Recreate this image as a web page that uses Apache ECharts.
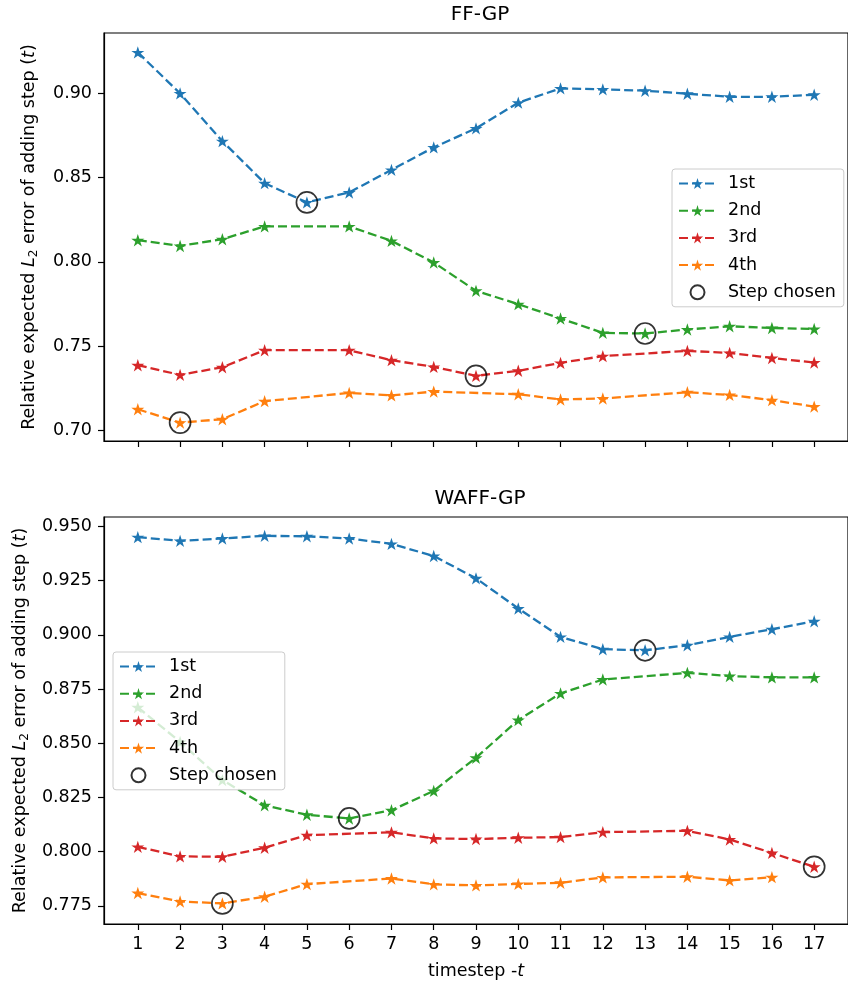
<!DOCTYPE html>
<html>
<head>
<meta charset="utf-8">
<script src="https://cdn.jsdelivr.net/npm/echarts@6/dist/echarts.min.js"></script>
<style>
  html, body { margin: 0; padding: 0; background: #fff; }
  #main { width: 848px; height: 981px; }
</style>
</head>
<body>
<div id="main"></div>
<script>
// timesteps on the x axis
var steps = [1, 2, 3, 4, 5, 6, 7, 8, 9, 10, 11, 12, 13, 14, 15, 16, 17];
var names = ['1st', '2nd', '3rd', '4th'];
var colors = ['#1f77b4', '#2ca02c', '#d62728', '#ff7f0e'];

// FF-GP (top panel); null = step already chosen earlier
var ff1 = [0.9241, 0.8998, 0.8715, 0.8466, 0.8352, 0.8411, 0.8545, 0.8678, 0.8791, 0.8943, 0.9028, 0.9022, 0.9014, 0.8996, 0.8978, 0.8978, 0.8990];
var ff2 = [0.8128, 0.8094, 0.8134, 0.8210, null, 0.8210, 0.8124, 0.7996, 0.7828, 0.7749, 0.7664, 0.7579, 0.7575, 0.7599, 0.7618, 0.7608, 0.7602];
var ff3 = [0.7387, 0.7330, 0.7375, 0.7476, null, 0.7476, 0.7417, 0.7377, 0.7324, 0.7354, 0.7401, 0.7441, null, 0.7472, 0.7460, 0.7430, 0.7403];
var ff4 = [0.7126, 0.7047, 0.7067, 0.7174, null, 0.7223, 0.7208, 0.7231, null, 0.7215, 0.7184, 0.7190, null, 0.7227, 0.7211, 0.7180, 0.7142];
var ffChosen = [5, 13, 9, 2];

// WAFF-GP (bottom panel)
var wa1 = [0.9451, 0.9434, 0.9445, 0.9457, 0.9455, 0.9445, 0.9420, 0.9364, 0.9261, 0.9122, 0.8991, 0.8934, 0.8929, 0.8952, 0.8991, 0.9026, 0.9063];
var wa2 = [0.8666, 0.8506, 0.8330, 0.8214, 0.8170, 0.8153, 0.8191, 0.8280, 0.8433, 0.8607, 0.8730, 0.8794, null, 0.8825, 0.8810, 0.8804, 0.8804];
var wa3 = [0.8022, 0.7978, 0.7976, 0.8018, 0.8076, null, 0.8089, 0.8061, 0.8058, 0.8064, 0.8067, 0.8090, null, 0.8096, 0.8056, 0.7994, 0.7930];
var wa4 = [0.7809, 0.7770, 0.7761, 0.7792, 0.7850, null, 0.7876, 0.7849, 0.7844, 0.7851, 0.7856, 0.7881, null, 0.7884, 0.7867, 0.7882, null];
var waChosen = [13, 6, 17, 3];

var ffTicks = [0.70, 0.75, 0.80, 0.85, 0.90];
var waTicks = [0.775, 0.800, 0.825, 0.850, 0.875, 0.900, 0.925, 0.950];

var FONT = 'DejaVu Sans';
var STAR = 'path://M50,0L61.23,34.55L97.55,34.55L68.17,55.9L79.39,90.45L50,69.1L20.61,90.45L31.83,55.9L2.45,34.55L38.77,34.55Z';

var chart = echarts.init(document.getElementById('main'));

function pairs(vals) {
  return steps.map(function (s, i) { return [s, vals[i]]; });
}

function panelSeries(idx, lists, chosen) {
  var out = lists.map(function (vals, k) {
    return {
      type: 'line',
      name: names[k],
      xAxisIndex: idx,
      yAxisIndex: idx,
      data: pairs(vals),
      connectNulls: true,
      symbol: STAR,
      symbolSize: 13,
      symbolKeepAspect: true,
      showAllSymbol: true,
      color: colors[k],
      itemStyle: { color: colors[k] },
      lineStyle: { color: colors[k], width: 2.3, type: [9, 4] },
      z: 2 + k * 0.1
    };
  });
  out.push({
    type: 'scatter',
    name: 'Step chosen',
    xAxisIndex: idx,
    yAxisIndex: idx,
    data: chosen.map(function (s, k) { return [s, lists[k][s - 1]]; }),
    symbol: 'circle',
    symbolSize: 21,
    itemStyle: { color: 'rgba(0,0,0,0)', borderColor: '#000', borderWidth: 1.7 },
    z: 5
  });
  return out;
}

function yAxis(idx, min, max, ticks, digits) {
  return {
    type: 'value',
    gridIndex: idx,
    min: min,
    max: max,
    name: '{n|Relative expected }{i|L}{s|2}{n| error of adding step (}{i|t}{n|)}',
    nameLocation: 'middle',
    nameGap: 64,
    nameTextStyle: {
      rich: {
        n: { fontFamily: FONT, fontSize: 17.5, color: '#000', lineHeight: 22 },
        i: { fontFamily: FONT, fontSize: 17.5, color: '#000', fontStyle: 'italic', lineHeight: 22 },
        s: { fontFamily: FONT, fontSize: 12, color: '#000', verticalAlign: 'bottom', lineHeight: 14 }
      }
    },
    axisLine: { show: true, lineStyle: { color: '#000', width: 1.2 } },
    axisTick: { show: true, customValues: ticks, length: 6, lineStyle: { color: '#000', width: 1.2 } },
    axisLabel: {
      customValues: ticks,
      margin: 12,
      color: '#000',
      fontFamily: FONT,
      fontSize: 17.5,
      formatter: function (v) { return v.toFixed(digits); }
    },
    splitLine: { show: false }
  };
}

function xAxis(idx, showLabels) {
  return {
    type: 'value',
    gridIndex: idx,
    min: 0.2,
    max: 17.8,
    name: showLabels ? '{n|timestep -}{i|t}' : '',
    nameLocation: 'middle',
    nameGap: 38,
    nameTextStyle: {
      rich: {
        n: { fontFamily: FONT, fontSize: 17.5, color: '#000' },
        i: { fontFamily: FONT, fontSize: 17.5, color: '#000', fontStyle: 'italic' }
      }
    },
    axisLine: { show: true, onZero: false, lineStyle: { color: '#000', width: 1.2 } },
    axisTick: { show: true, customValues: steps, length: 6, lineStyle: { color: '#000', width: 1.2 } },
    axisLabel: {
      show: showLabels,
      customValues: steps,
      margin: 11,
      color: '#000',
      fontFamily: FONT,
      fontSize: 17.5
    },
    splitLine: { show: false }
  };
}

function legend(left, top) {
  return {
    orient: 'vertical',
    left: left,
    top: top,
    data: names.concat(['Step chosen']),
    itemWidth: 37,
    itemHeight: 14,
    itemGap: 6.2,
    padding: [4, 8, 4, 6],
    backgroundColor: 'rgba(255,255,255,0.8)',
    borderColor: '#cccccc',
    borderWidth: 1,
    borderRadius: 3,
    selectedMode: false,
    textStyle: { fontFamily: FONT, fontSize: 17.5, color: '#000', lineHeight: 21, padding: [0, 0, 0, 7] },
    z: 10
  };
}

var option = {
  animation: false,
  backgroundColor: '#fff',
  title: [
    { text: 'FF-GP', left: 480, top: 5, textAlign: 'center', padding: 0,
      textStyle: { fontFamily: FONT, fontSize: 20, fontWeight: 'normal', color: '#000' } },
    { text: 'WAFF-GP', left: 480, top: 489, textAlign: 'center', padding: 0,
      textStyle: { fontFamily: FONT, fontSize: 20, fontWeight: 'normal', color: '#000' } }
  ],
  grid: [
    { left: 104, top: 33, width: 752, height: 408, show: true, borderColor: '#000', borderWidth: 1.2, backgroundColor: 'transparent' },
    { left: 104, top: 517, width: 752, height: 407, show: true, borderColor: '#000', borderWidth: 1.2, backgroundColor: 'transparent' }
  ],
  legend: [legend(672, 169), legend(113, 652)],
  xAxis: [xAxis(0, false), xAxis(1, true)],
  yAxis: [yAxis(0, 0.6938, 0.9356, ffTicks, 2), yAxis(1, 0.7666, 0.9544, waTicks, 3)],
  series: panelSeries(0, [ff1, ff2, ff3, ff4], ffChosen)
    .concat(panelSeries(1, [wa1, wa2, wa3, wa4], waChosen))
};

chart.setOption(option);
window.addEventListener('resize', function () {
  chart.resize();
});
</script>
</body>
</html>
